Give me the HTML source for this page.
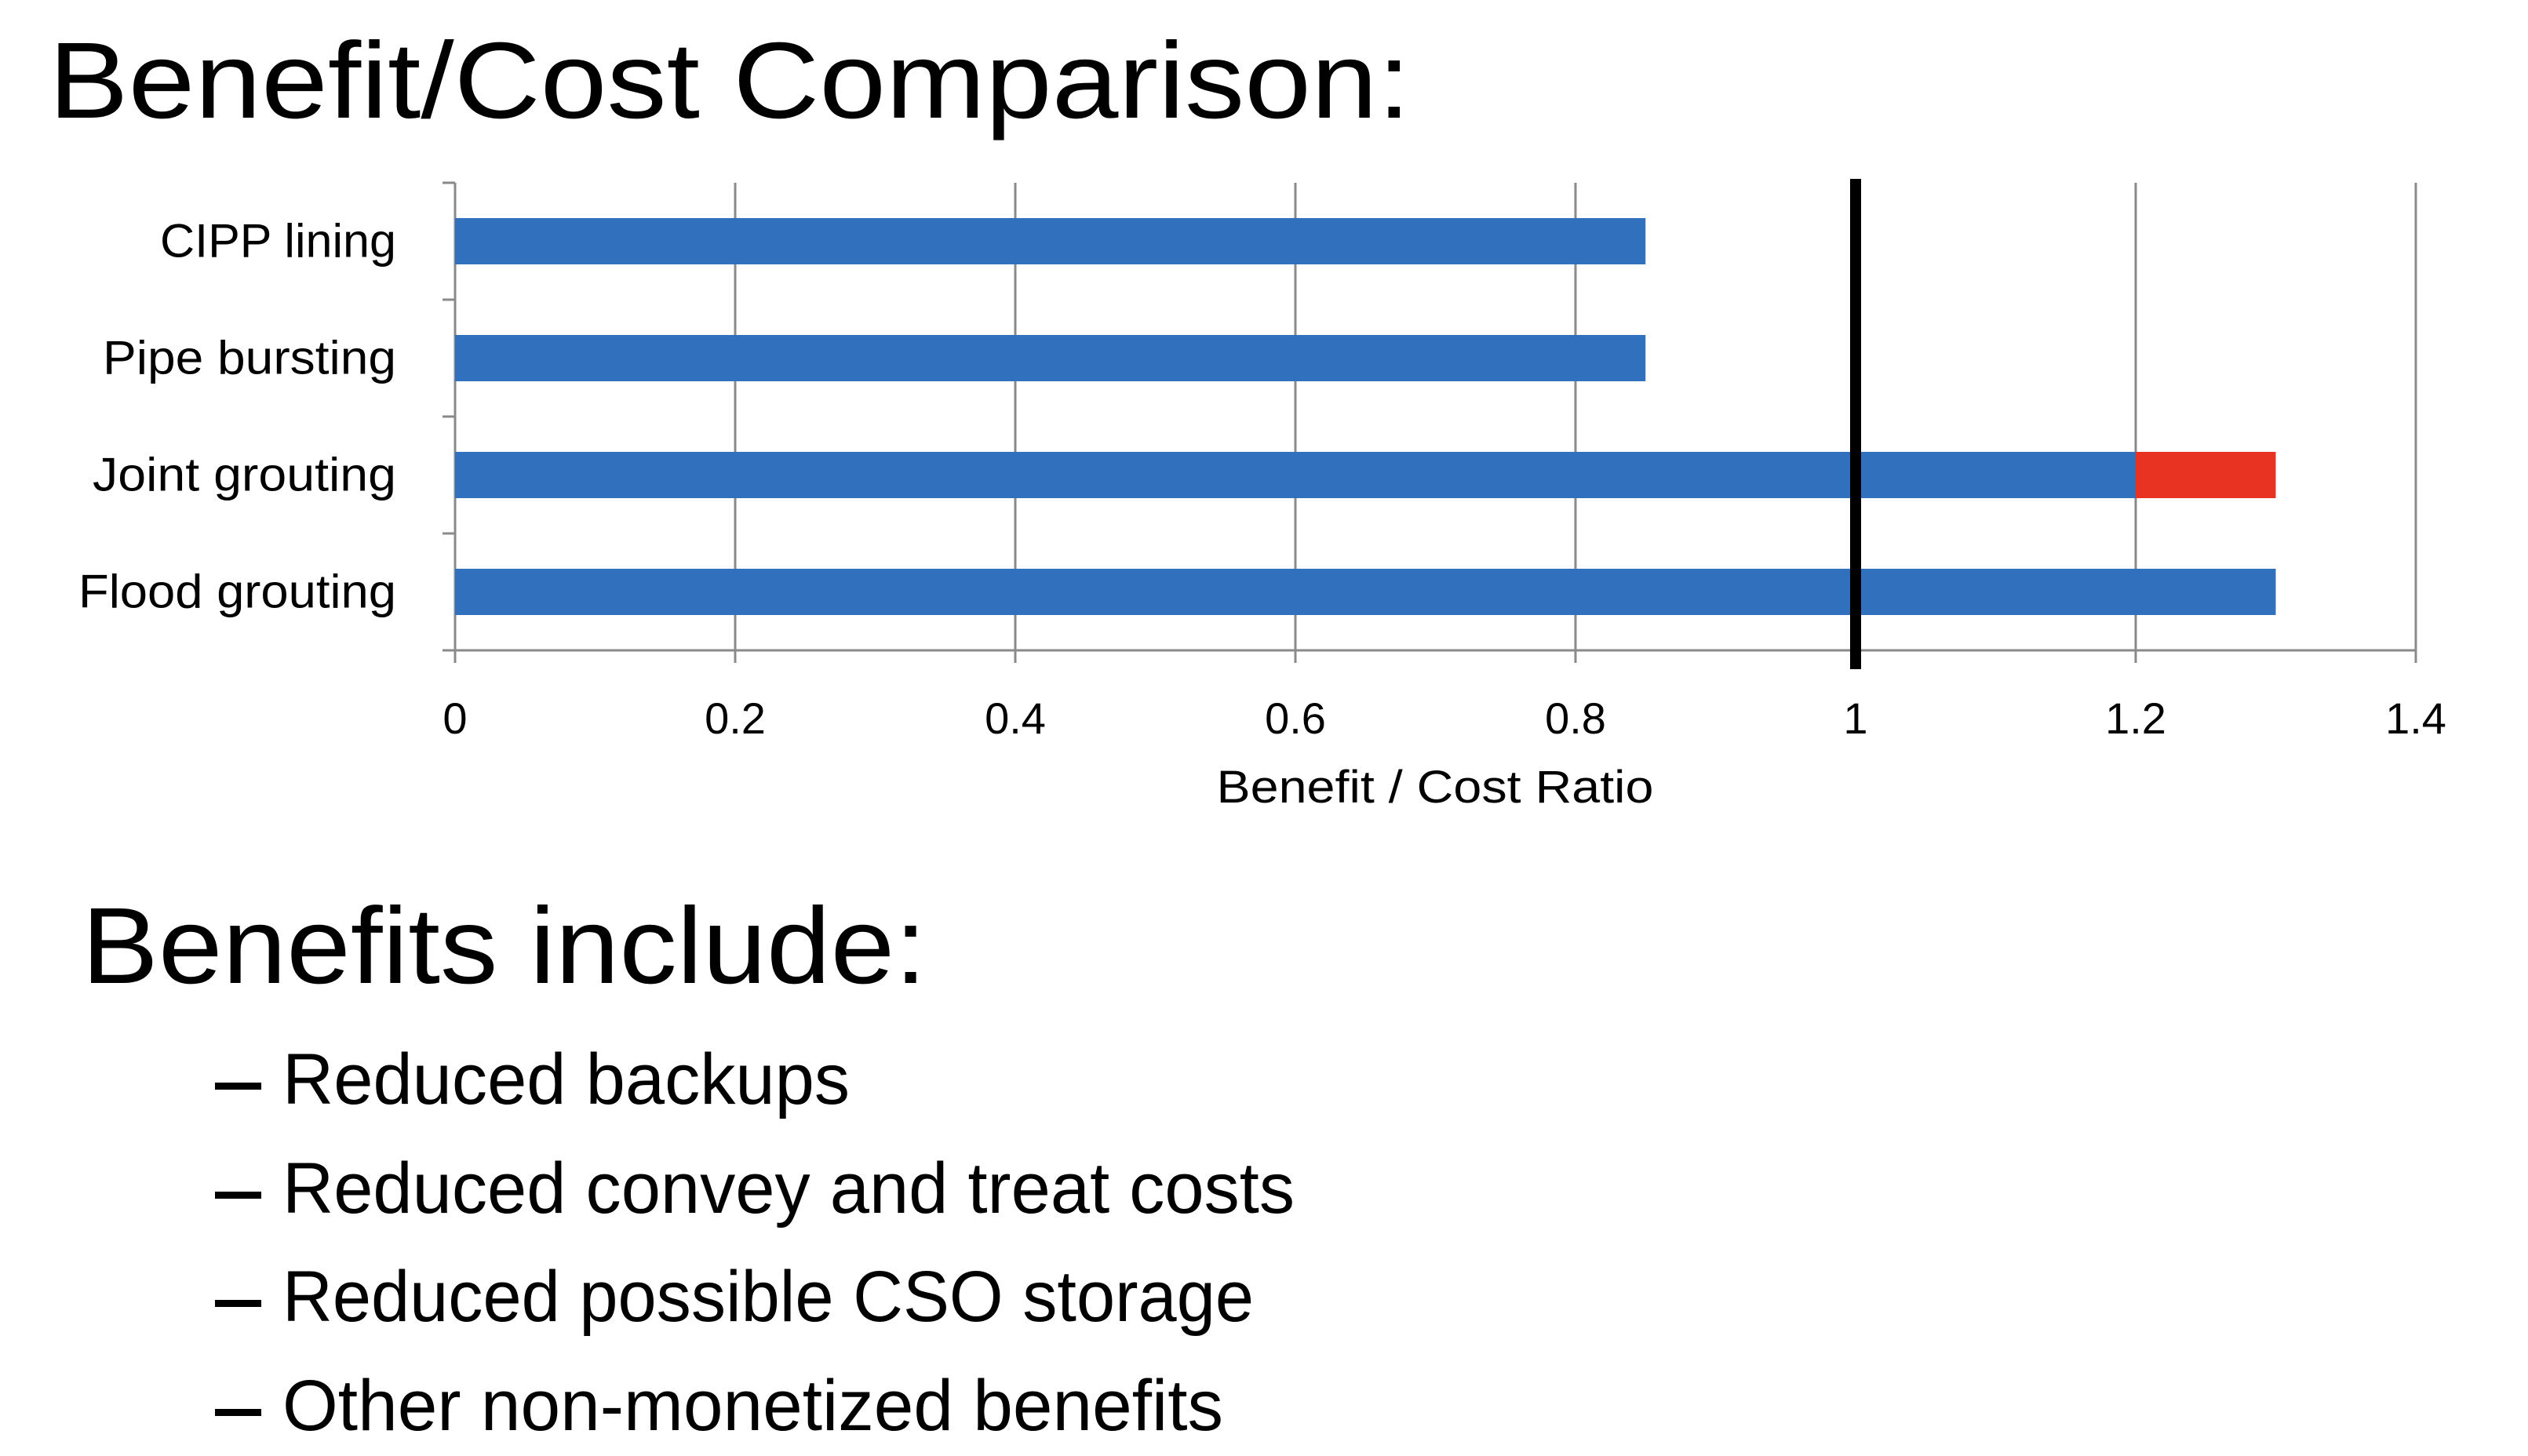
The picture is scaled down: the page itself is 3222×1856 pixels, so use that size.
<!DOCTYPE html>
<html><head><meta charset="utf-8"><style>
html,body{margin:0;padding:0;background:#fff;}
svg{display:block;font-family:"Liberation Sans",sans-serif;}
</style></head><body>
<svg id="chart" width="3222" height="1856" viewBox="0 0 3222 1856" xmlns="http://www.w3.org/2000/svg">
<text x="62" y="150" font-size="138" textLength="1736" lengthAdjust="spacingAndGlyphs">Benefit/Cost Comparison:</text>
<g id="plot"></g>
<text x="104" y="1253" font-size="138" textLength="1077" lengthAdjust="spacingAndGlyphs">Benefits include:</text>
<g font-size="92">
<rect x="274" y="1380" width="59" height="9" fill="#000"/>
<text x="360" y="1407" textLength="723" lengthAdjust="spacingAndGlyphs">Reduced backups</text>
<rect x="274" y="1519" width="59" height="9" fill="#000"/>
<text x="360" y="1546" textLength="1290" lengthAdjust="spacingAndGlyphs">Reduced convey and treat costs</text>
<rect x="274" y="1657" width="59" height="9" fill="#000"/>
<text x="360" y="1684" textLength="1238" lengthAdjust="spacingAndGlyphs">Reduced possible CSO storage</text>
<rect x="274" y="1796" width="59" height="9" fill="#000"/>
<text x="360" y="1823" textLength="1199" lengthAdjust="spacingAndGlyphs">Other non-monetized benefits</text>
</g>
</svg>
<script>
const categories = ["CIPP lining","Pipe bursting","Joint grouting","Flood grouting"];
const baseValues = [0.85, 0.85, 1.2, 1.3];
const extraValues = [0, 0, 0.1, 0];
const xTicks = [0, 0.2, 0.4, 0.6, 0.8, 1, 1.2, 1.4];
const xTickLabels = ["0","0.2","0.4","0.6","0.8","1","1.2","1.4"];
const refValue = 1;

const NS = "http://www.w3.org/2000/svg";
const g = document.getElementById("plot");
const X0 = 580, X1 = 3079, XMAX = 1.4;
const Y0 = 233, Y1 = 829;
const band = (Y1 - Y0) / categories.length;
const xs = v => X0 + (v / XMAX) * (X1 - X0);
const yc = i => Y0 + band * (i + 0.5);
const labelW = [301, 374, 387, 405];
function mk(tag, attrs){ const e=document.createElementNS(NS,tag); for(const k in attrs) e.setAttribute(k,attrs[k]); g.appendChild(e); return e; }

xTicks.forEach((t,i)=>{
  const x = xs(t);
  const l = mk("line",{x1:x,y1:Y0,x2:x,y2:Y1+16,stroke:"#8a8a8a","stroke-width":3});
  
  
  const tx = mk("text",{x:x,y:935,"font-size":56,"text-anchor":"middle"});
  tx.textContent = xTickLabels[i];
  
  
});
const ya = mk("line",{x1:X0,y1:Y0,x2:X0,y2:Y1+16,stroke:"#8a8a8a","stroke-width":3});


const xa = mk("line",{x1:X0-16,y1:Y1,x2:X1,y2:Y1,stroke:"#8a8a8a","stroke-width":3});


for(let i=0;i<=categories.length;i++){
  const y = Y0 + band*i;
  const tk = mk("line",{x1:X0-16,y1:y,x2:X0,y2:y,stroke:"#8a8a8a","stroke-width":3});
  
  
}
const bh = 59;
categories.forEach((c,i)=>{
  const y = yc(i);
  const b = mk("rect",{x:xs(0),y:y-bh/2,width:xs(baseValues[i])-xs(0),height:bh,fill:"#3070bc"});
  
  
  if(extraValues[i]>0){
    const r = mk("rect",{x:xs(baseValues[i]),y:y-bh/2,width:xs(baseValues[i]+extraValues[i])-xs(baseValues[i]),height:bh,fill:"#e83323"});
    
    
  }
  const t = mk("text",{x:505,y:y+20,"font-size":60,"text-anchor":"end",textLength:labelW[i],lengthAdjust:"spacingAndGlyphs"});
  t.textContent = c;
  
  
});
const rl = mk("rect",{x:xs(refValue)-7,y:228,width:14,height:625,fill:"#000"});


const at = mk("text",{x:1829,y:1023,"font-size":58,"text-anchor":"middle",textLength:557,lengthAdjust:"spacingAndGlyphs"});
at.textContent = "Benefit / Cost Ratio";


</script>
</body></html>
